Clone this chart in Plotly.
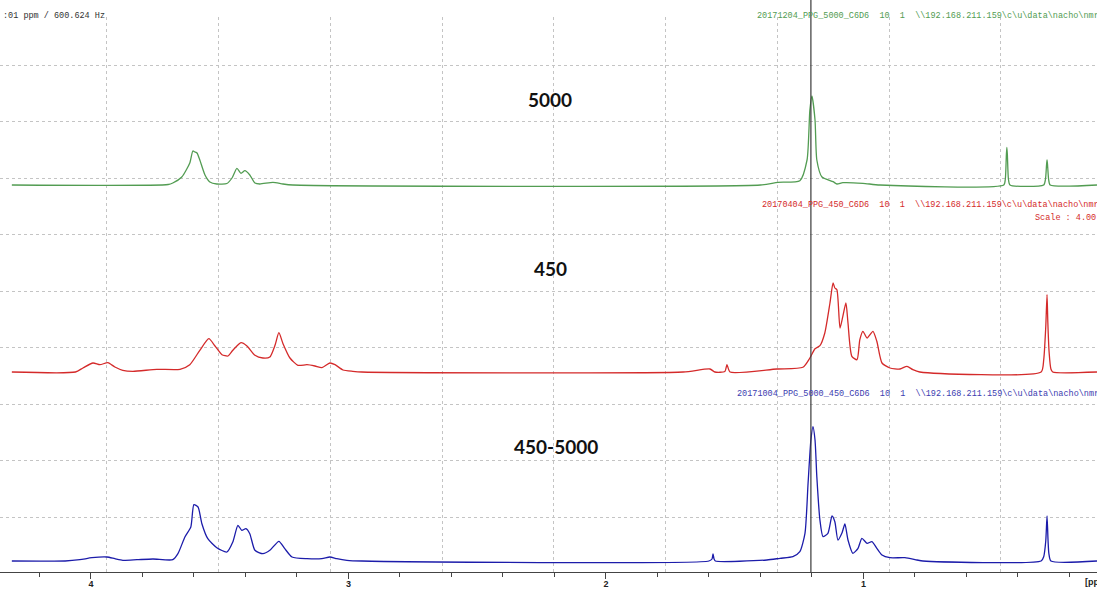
import plotly.graph_objects as go

# ---- 1H NMR traces (chemical shift in ppm, intensity in arbitrary units) ----
# PPG 5000 (green)
G_PPM = [4.307, 3.70, 3.682, 3.647, 3.616, 3.604, 3.596, 3.588, 3.577, 3.557, 3.538, 3.511,
         3.472, 3.452, 3.433, 3.417, 3.402, 3.383, 3.363, 3.344, 3.293, 3.254, 3.216,
         1.40, 1.332, 1.247, 1.219, 1.208, 1.200, 1.188, 1.181, 1.161, 1.118, 1.103,
         1.080, 1.002, 0.936,
         0.455, 0.449, 0.445, 0.443, 0.441, 0.437, 0.431,
         0.300, 0.293, 0.289, 0.287, 0.285, 0.281, 0.275, 0.093]
G_INT = [0, 0.5, 2, 8, 22, 34, 33, 32, 25, 10, 3, 1,
         1.5, 7, 16.7, 11.7, 14.3, 10, 2, 1, 2.7, 1, 0,
         0, 2.7, 4.3, 25, 75, 89, 65, 25, 8, 3.3, 1,
         2.3, 1.7, 0,
         0, 6, 30, 37.7, 30, 6, 0,
         0, 6, 20, 25, 20, 6, 0, 0]

# PPG 450 (red)
R_PPM = [4.307, 4.06, 4.031, 3.992, 3.965, 3.934, 3.907, 3.876, 3.837, 3.744, 3.654,
         3.616, 3.577, 3.542, 3.518, 3.491, 3.468, 3.449, 3.417, 3.394, 3.363, 3.332,
         3.305, 3.285, 3.270, 3.254, 3.227, 3.196, 3.161, 3.130, 3.103, 3.072, 3.052,
         3.021, 2.983, 2.948,
         1.70, 1.596, 1.577, 1.538, 1.530, 1.518,
         1.336, 1.235, 1.208, 1.188, 1.169, 1.150, 1.130, 1.118, 1.111, 1.103, 1.091,
         1.080, 1.068, 1.060, 1.045, 1.025, 1.014, 1.002, 0.986, 0.963, 0.948, 0.928,
         0.897, 0.858, 0.831, 0.808, 0.781,
         0.310, 0.300, 0.292, 0.287, 0.284, 0.279, 0.272, 0.265, 0.093]
R_INT = [0, 0, 4, 9, 7.3, 9.3, 5, 1.7, 0.7, 2.7, 2.7,
         7.3, 21.7, 33.3, 26, 17.3, 16, 21.7, 29.3, 26, 16.7, 14,
         15, 26.7, 39.3, 28.3, 14, 6.7, 7.3, 6, 4.3, 9, 7.3,
         2, 0.7, 0,
         0, 3, 0, 0.5, 7.3, 0,
         3, 4.7, 14, 23.3, 26.3, 39, 69, 89, 84, 82.3, 44,
         55.7, 69, 49, 15.7, 12.3, 32.3, 40.7, 34, 40.7, 30.7, 9,
         4, 3, 5.7, 2.3, 0,
         0, 12, 45, 77.3, 50, 20, 3, 0, 0]

# PPG 450-5000 (blue)
B_PPM = [4.307, 4.10, 4.043, 3.996, 3.938, 3.907, 3.876, 3.821, 3.759, 3.682, 3.662,
         3.635, 3.612, 3.600, 3.584, 3.569, 3.546, 3.511, 3.472, 3.449, 3.429, 3.414,
         3.398, 3.383, 3.363, 3.332, 3.305, 3.270, 3.247, 3.219, 3.161, 3.103, 3.072,
         3.045, 3.006, 2.948,
         1.60, 1.588, 1.584, 1.580, 1.575,
         1.375, 1.324, 1.274, 1.247, 1.227, 1.215, 1.204, 1.196, 1.188, 1.181, 1.169,
         1.157, 1.138, 1.122, 1.111, 1.099, 1.083, 1.072, 1.060, 1.041, 1.021, 1.006,
         0.986, 0.967, 0.948, 0.928, 0.897, 0.839, 0.792, 0.769,
         0.310, 0.300, 0.292, 0.287, 0.283, 0.280, 0.272, 0.093]
B_INT = [0, 0, 1.3, 3.3, 4, 2.3, 0.7, 1.3, 2, 1.3, 7.3,
         24, 34, 56.3, 54, 37.3, 22.3, 13.3, 9, 19, 35.7, 30.7,
         32.3, 27.3, 10.7, 7.3, 10.7, 19.7, 12.3, 4, 2.3, 2.3, 4,
         2.3, 0.7, 0,
         0, 2, 7, 2, 0,
         1, 2.7, 4.3, 9.3, 27.7, 77.7, 121, 134.3, 121, 84.3, 41,
         24.3, 27.7, 45, 39.3, 21, 28.3, 37, 21, 7.7, 12.7, 22.7,
         17.7, 19.3, 12.7, 6, 3.3, 3.3, 1, 0,
         0, 4.3, 20, 45, 20, 7.7, 0, 0]

SAMPLES = ["5000", "450", "450-5000"]
HEADERS = [
    "20171204_PPG_5000_C6D6  10  1  \\\\192.168.211.159\\c\\u\\data\\nacho\\nmr",
    "20170404_PPG_450_C6D6  10  1  \\\\192.168.211.159\\c\\u\\data\\nacho\\nmr",
    "20171004_PPG_5000_450_C6D6  10  1  \\\\192.168.211.159\\c\\u\\data\\nacho\\nmr",
]
CURSOR_PPM = 1.204
X_RANGE = [4.353, 0.093]
MAJOR_TICKS = [4, 3, 2, 1]

GREEN, RED, BLUE = "#529c52", "#d42a2a", "#1c1caa"
GRID = "#c4c4c4"
MONO = "Liberation Mono, Courier New, monospace"

H = 572.0  # plot height in px
GRID_TOP = 0.97  # fraction of the plot height covered by the screen grid

fig = go.Figure()

# empty traces that realise the grid subplots first (so they sit underneath)
fig.add_trace(go.Scatter(x=[None], y=[None], xaxis="x", yaxis="y", showlegend=False,
                         hoverinfo="skip"))
fig.add_trace(go.Scatter(x=[None], y=[None], xaxis="x2", yaxis="y", showlegend=False,
                         hoverinfo="skip"))

# spectra, each on its own stacked y axis
for ppm, inten, color, yax in [(G_PPM, G_INT, GREEN, "y4"),
                               (R_PPM, R_INT, RED, "y3"),
                               (B_PPM, B_INT, BLUE, "y2")]:
    fig.add_trace(go.Scatter(x=ppm, y=inten, mode="lines", xaxis="x", yaxis=yax,
                             line=dict(color=color, width=1.3, shape="spline", smoothing=0.6),
                             hoverinfo="skip", showlegend=False))


def py(px):
    return (H - px) / H


fig.update_layout(
    width=1097, height=589,
    margin=dict(l=0, r=0, t=0, b=17, autoexpand=False),
    paper_bgcolor="white", plot_bgcolor="rgba(0,0,0,0)",
    showlegend=False,
    xaxis=dict(range=X_RANGE, anchor="y", showgrid=False, zeroline=False, automargin=False,
               showline=True, linecolor="#444", linewidth=1,
               tickmode="array", tickvals=MAJOR_TICKS,
               ticktext=["<b>%d</b>" % t for t in MAJOR_TICKS],
               ticks="outside", ticklen=6, tickcolor="#444", tickwidth=1,
               ticklabelstandoff=-3,
               minor=dict(dtick=0.2, tick0=0, ticks="outside", ticklen=4,
                          tickcolor="#444", tickwidth=1),
               tickfont=dict(family="Liberation Sans, Arial", size=9, color="#222")),
    xaxis2=dict(range=X_RANGE, overlaying="x", anchor="y", showticklabels=False,
                ticks="", tick0=0.466, dtick=0.434, showgrid=True, gridcolor=GRID,
                griddash="dot", gridwidth=1, zeroline=False, showline=False, automargin=False),
    yaxis=dict(domain=[0, GRID_TOP], range=[0, H * GRID_TOP], anchor="x", automargin=False,
               showticklabels=False, ticks="", tick0=55, dtick=56.5, showgrid=True,
               gridcolor=GRID, griddash="dot", gridwidth=1, zeroline=False, showline=False),
    yaxis2=dict(domain=[0, 182 / H], range=[-11, 171], anchor="x", visible=False),
    yaxis3=dict(domain=[(H - 380) / H, (H - 195) / H], range=[-8, 177], anchor="x",
                visible=False),
    yaxis4=dict(domain=[(H - 192) / H, 1], range=[-7, 185], anchor="x", visible=False),
)

# cursor line
fig.add_shape(type="line", xref="x", yref="paper", x0=CURSOR_PPM, x1=CURSOR_PPM,
              y0=0, y1=1, line=dict(color="#3a3a3a", width=1.2))

ann = [
    dict(text=":01 ppm / 600.624 Hz", x=1 / 1097, y=py(16), xanchor="left",
         font=dict(family=MONO, size=8.5, color="#333")),
    dict(text=HEADERS[0], x=755 / 1097, y=py(16), xanchor="left",
         font=dict(family=MONO, size=8.5, color=GREEN)),
    dict(text=HEADERS[1], x=760 / 1097, y=py(205), xanchor="left",
         font=dict(family=MONO, size=8.5, color=RED)),
    dict(text="Scale : 4.00", x=1033 / 1097, y=py(218), xanchor="left",
         font=dict(family=MONO, size=8.5, color=RED)),
    dict(text=HEADERS[2], x=735 / 1097, y=py(394), xanchor="left",
         font=dict(family=MONO, size=8.5, color="#3c3cb0")),
    dict(text="<b>%s</b>" % SAMPLES[0], x=550 / 1097, y=py(100), xanchor="center",
         font=dict(family="Lato, Open Sans, sans-serif", size=19, color="#111")),
    dict(text="<b>%s</b>" % SAMPLES[1], x=550 / 1097, y=py(268), xanchor="center",
         font=dict(family="Lato, Open Sans, sans-serif", size=19, color="#111")),
    dict(text="<b>%s</b>" % SAMPLES[2], x=556 / 1097, y=py(446), xanchor="center",
         font=dict(family="Lato, Open Sans, sans-serif", size=19, color="#111")),
    dict(text="<b>[ppm]</b>", x=1083 / 1097, y=py(582), xanchor="left",
         font=dict(family="Liberation Sans, Arial", size=9, color="#222")),
]
for a in ann:
    fig.add_annotation(xref="paper", yref="paper", showarrow=False, yanchor="middle", **a)

fig.write_html("out.html")
